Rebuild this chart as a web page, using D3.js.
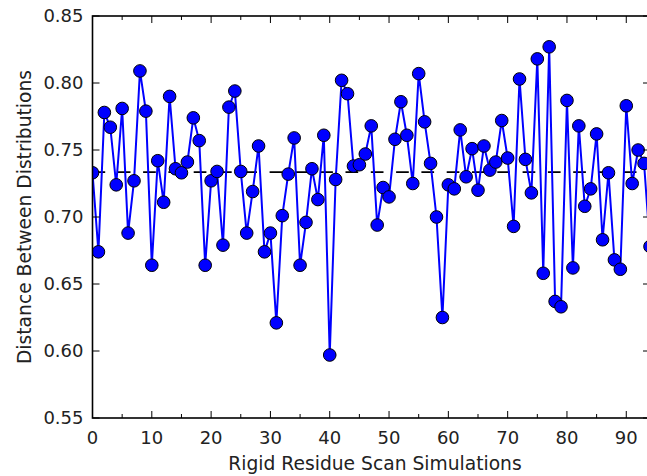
<!DOCTYPE html>
<html>
<head>
<meta charset="utf-8">
<script src="https://cdn.jsdelivr.net/npm/d3@7"></script>
<style>
  html, body { margin: 0; padding: 0; background: #fff; overflow: hidden; }
  text { font-family: "DejaVu Sans", sans-serif; fill: #222; }
</style>
</head>
<body>
<div id="chart"></div>
<script>
// distance per simulation, index = simulation number
var distances = [
  0.733, 0.674, 0.778, 0.767, 0.724, 0.781, 0.688, 0.727, 0.809, 0.779,
  0.664, 0.742, 0.711, 0.790, 0.736, 0.733, 0.741, 0.774, 0.757, 0.664,
  0.727, 0.734, 0.679, 0.782, 0.794, 0.734, 0.688, 0.719, 0.753, 0.674,
  0.688, 0.621, 0.701, 0.732, 0.759, 0.664, 0.696, 0.736, 0.713, 0.761,
  0.597, 0.728, 0.802, 0.792, 0.738, 0.739, 0.747, 0.768, 0.694, 0.722,
  0.715, 0.758, 0.786, 0.761, 0.725, 0.807, 0.771, 0.740, 0.700, 0.625,
  0.724, 0.721, 0.765, 0.730, 0.751, 0.720, 0.753, 0.735, 0.741, 0.772,
  0.744, 0.693, 0.803, 0.743, 0.718, 0.818, 0.658, 0.827, 0.637, 0.633,
  0.787, 0.662, 0.768, 0.708, 0.721, 0.762, 0.683, 0.733, 0.668, 0.661,
  0.783, 0.725, 0.750, 0.740, 0.678
];
var meanLevel = 0.7335;
var xTicks = [0, 10, 20, 30, 40, 50, 60, 70, 80, 90];
var xMinorTicks = [5, 15, 25, 35, 45, 55, 65, 75, 85];
var yTicks = [0.55, 0.60, 0.65, 0.70, 0.75, 0.80, 0.85];

var W = 647, H = 476;
var margin = {top: 16, left: 92.5};
var plotW = 557.5, plotH = 402;

var svg = d3.select("#chart").append("svg")
    .attr("width", W)
    .attr("height", H);

var x = d3.scaleLinear().domain([0, distances.length - 1]).range([0, plotW]);
var y = d3.scaleLinear().domain([0.55, 0.85]).range([plotH, 0]);

svg.append("defs").append("clipPath")
    .attr("id", "clip")
    .append("rect")
    .attr("width", plotW)
    .attr("height", plotH);

var g = svg.append("g")
    .attr("transform", "translate(" + margin.left + "," + margin.top + ")");

var plot = g.append("g").attr("clip-path", "url(#clip)");

plot.append("line")
    .attr("x1", 0).attr("x2", plotW)
    .attr("y1", y(meanLevel)).attr("y2", y(meanLevel))
    .attr("stroke", "#000")
    .attr("stroke-width", 1.8)
    .attr("stroke-dasharray", "12.7,12.6");

var line = d3.line()
    .x(function(d, i) { return x(i); })
    .y(function(d) { return y(d); });

plot.append("path")
    .datum(distances)
    .attr("fill", "none")
    .attr("stroke", "#0000ff")
    .attr("stroke-width", 2)
    .attr("d", line);

plot.selectAll("circle")
    .data(distances)
    .enter().append("circle")
    .attr("cx", function(d, i) { return x(i); })
    .attr("cy", function(d) { return y(d); })
    .attr("r", 6.3)
    .attr("fill", "#0000ff")
    .attr("stroke", "#000")
    .attr("stroke-width", 1);

// ticks, inward on all four sides
function xTickMarks(vals, len) {
    vals.forEach(function(v) {
        g.append("line").attr("x1", x(v)).attr("x2", x(v))
            .attr("y1", plotH).attr("y2", plotH - len)
            .attr("stroke", "#000").attr("stroke-width", 1);
        g.append("line").attr("x1", x(v)).attr("x2", x(v))
            .attr("y1", 0).attr("y2", len)
            .attr("stroke", "#000").attr("stroke-width", 1);
    });
}
xTickMarks(xTicks, 7);
xTickMarks(xMinorTicks, 4);

yTicks.forEach(function(v) {
    g.append("line").attr("x1", 0).attr("x2", 7)
        .attr("y1", y(v)).attr("y2", y(v))
        .attr("stroke", "#000").attr("stroke-width", 1);
    g.append("line").attr("x1", plotW).attr("x2", plotW - 7)
        .attr("y1", y(v)).attr("y2", y(v))
        .attr("stroke", "#000").attr("stroke-width", 1);
});

g.append("rect")
    .attr("width", plotW)
    .attr("height", plotH)
    .attr("fill", "none")
    .attr("stroke", "#000")
    .attr("stroke-width", 1.6);

g.selectAll(".xlab")
    .data(xTicks)
    .enter().append("text")
    .attr("class", "xlab")
    .attr("x", function(d) { return x(d); })
    .attr("y", plotH + 26)
    .attr("text-anchor", "middle")
    .style("font-size", "18px")
    .text(function(d) { return d; });

g.selectAll(".ylab")
    .data(yTicks)
    .enter().append("text")
    .attr("class", "ylab")
    .attr("x", -9)
    .attr("y", function(d) { return y(d); })
    .attr("dy", "0.36em")
    .attr("text-anchor", "end")
    .style("font-size", "18px")
    .text(function(d) { return d3.format(".2f")(d); });

svg.append("text")
    .attr("x", 375)
    .attr("y", 470)
    .attr("text-anchor", "middle")
    .style("font-size", "18.7px")
    .text("Rigid Residue Scan Simulations");

svg.append("text")
    .attr("transform", "translate(31," + (margin.top + plotH / 2) + ") rotate(-90)")
    .attr("text-anchor", "middle")
    .style("font-size", "18.7px")
    .text("Distance Between Distributions");
</script>
</body>
</html>
